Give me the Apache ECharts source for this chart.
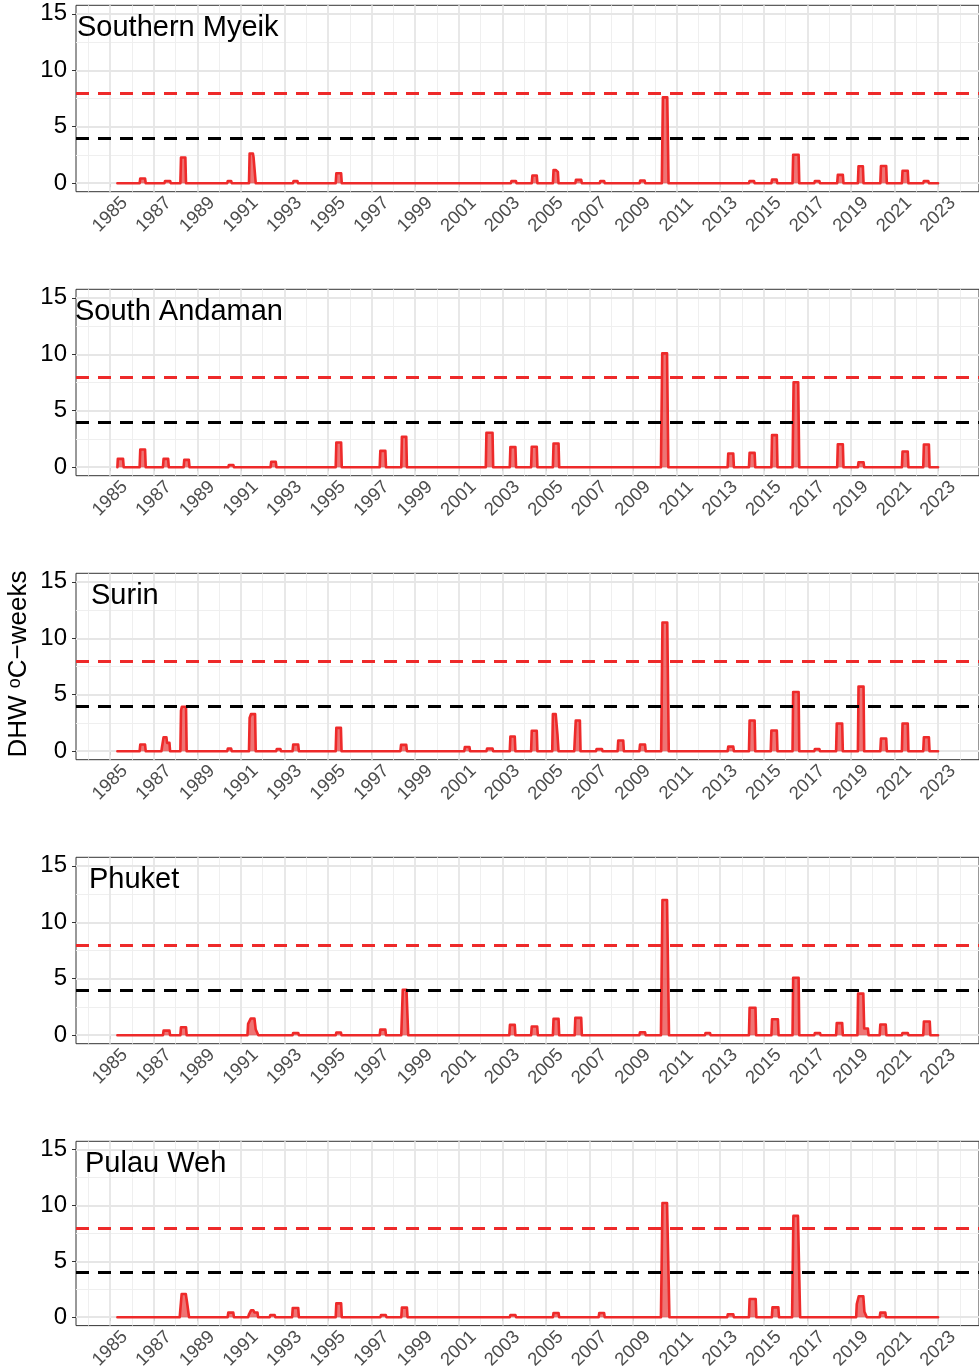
<!DOCTYPE html>
<html>
<head>
<meta charset="utf-8">
<script src="https://cdn.jsdelivr.net/npm/echarts@6/dist/echarts.min.js"></script>
<style>
html,body{margin:0;padding:0;background:#fff;}
#chart{width:979px;height:1372px;}
</style>
</head>
<body>
<div id="chart"></div>
<script>
// ---- data ----
const regions = ["Southern Myeik", "South Andaman", "Surin", "Phuket", "Pulau Weh"];
const tickYears = [1985,1987,1989,1991,1993,1995,1997,1999,2001,2003,2005,2007,2009,2011,2013,2015,2017,2019,2021,2023];
const minorYears = [1984,1986,1988,1990,1992,1994,1996,1998,2000,2002,2004,2006,2008,2010,2012,2014,2016,2018,2020,2022,2024];
const yTicks = [0, 5, 10, 15];
const yMinor = [2.5, 7.5, 12.5];
const thresholds = [4, 8];
const yAxisTitle = "DHW ";
const yAxisUnit = "C\u2212weeks";

const myeik = [
[1985.33,0],
[1986.35,0],[1986.38,0.42],[1986.60,0.42],[1986.63,0],
[1987.49,0],[1987.52,0.2],[1987.75,0.2],[1987.78,0],
[1988.22,0],[1988.25,2.28],[1988.45,2.28],[1988.48,0],
[1990.37,0],[1990.40,0.2],[1990.55,0.2],[1990.58,0],
[1991.37,0],[1991.40,2.63],[1991.55,2.63],[1991.58,2.3],[1991.65,2.3],[1991.68,0],
[1993.39,0],[1993.42,0.2],[1993.59,0.2],[1993.62,0],
[1995.35,0],[1995.38,0.88],[1995.60,0.88],[1995.63,0],
[2003.39,0],[2003.42,0.2],[2003.62,0.2],[2003.65,0],
[2004.35,0],[2004.38,0.68],[2004.58,0.68],[2004.61,0],
[2005.32,0],[2005.35,1.16],[2005.45,1.16],[2005.55,1.0],[2005.58,0],
[2006.35,0],[2006.38,0.3],[2006.62,0.3],[2006.65,0],
[2007.47,0],[2007.50,0.2],[2007.67,0.2],[2007.70,0],
[2009.30,0],[2009.33,0.24],[2009.53,0.24],[2009.56,0],
[2010.32,0],[2010.37,7.6],[2010.57,7.6],[2010.63,0],
[2014.32,0],[2014.35,0.2],[2014.55,0.2],[2014.58,0],
[2015.35,0],[2015.38,0.33],[2015.59,0.33],[2015.62,0],
[2016.32,0],[2016.35,2.52],[2016.60,2.52],[2016.63,0],
[2017.32,0],[2017.35,0.2],[2017.55,0.2],[2017.58,0],
[2018.37,0],[2018.40,0.74],[2018.63,0.74],[2018.66,0],
[2019.32,0],[2019.35,1.5],[2019.55,1.5],[2019.58,0],
[2020.35,0],[2020.38,1.52],[2020.62,1.52],[2020.65,0],
[2021.34,0],[2021.37,1.1],[2021.61,1.1],[2021.64,0],
[2022.32,0],[2022.35,0.2],[2022.55,0.2],[2022.58,0],
[2023.0,0]
];

const andaman = [
[1985.33,0],[1985.35,0.74],[1985.59,0.74],[1985.62,0],
[1986.35,0],[1986.38,1.57],[1986.60,1.57],[1986.63,0],
[1987.42,0],[1987.45,0.74],[1987.66,0.74],[1987.69,0],
[1988.37,0],[1988.40,0.65],[1988.61,0.65],[1988.64,0],
[1990.42,0],[1990.45,0.2],[1990.65,0.2],[1990.68,0],
[1992.36,0],[1992.39,0.48],[1992.60,0.48],[1992.63,0],
[1995.35,0],[1995.38,2.19],[1995.60,2.19],[1995.63,0],
[1997.37,0],[1997.40,1.45],[1997.63,1.45],[1997.66,0],
[1998.36,0],[1998.39,2.69],[1998.59,2.69],[1998.62,0],
[2002.24,0],[2002.27,3.05],[2002.55,3.05],[2002.58,0],
[2003.34,0],[2003.37,1.78],[2003.60,1.78],[2003.63,0],
[2004.32,0],[2004.35,1.81],[2004.58,1.81],[2004.61,0],
[2005.32,0],[2005.35,2.1],[2005.58,2.1],[2005.61,0],
[2010.28,0],[2010.34,10.08],[2010.56,10.08],[2010.62,0],
[2013.34,0],[2013.37,1.21],[2013.60,1.21],[2013.63,0],
[2014.32,0],[2014.35,1.27],[2014.58,1.27],[2014.61,0],
[2015.35,0],[2015.38,2.84],[2015.60,2.84],[2015.63,0],
[2016.32,0],[2016.37,7.52],[2016.58,7.52],[2016.63,0],
[2018.37,0],[2018.40,2.04],[2018.63,2.04],[2018.66,0],
[2019.32,0],[2019.35,0.44],[2019.58,0.44],[2019.61,0],
[2021.34,0],[2021.37,1.39],[2021.61,1.39],[2021.64,0],
[2022.32,0],[2022.35,2.01],[2022.58,2.01],[2022.61,0],
[2023.0,0]
];

const surin = [
[1985.33,0],
[1986.35,0],[1986.38,0.59],[1986.60,0.59],[1986.63,0],
[1987.35,0],[1987.38,0.4],[1987.45,1.24],[1987.58,1.24],[1987.61,0.74],[1987.72,0.74],[1987.75,0],
[1988.22,0],[1988.25,3.6],[1988.29,3.94],[1988.48,3.94],[1988.51,0],
[1990.37,0],[1990.40,0.24],[1990.55,0.24],[1990.58,0],
[1991.37,0],[1991.40,2.95],[1991.46,3.28],[1991.65,3.28],[1991.68,0],
[1992.62,0],[1992.65,0.2],[1992.81,0.2],[1992.84,0],
[1993.37,0],[1993.40,0.59],[1993.63,0.59],[1993.66,0],
[1995.35,0],[1995.38,2.07],[1995.59,2.07],[1995.62,0],
[1998.32,0],[1998.35,0.56],[1998.59,0.56],[1998.62,0],
[2001.25,0],[2001.28,0.38],[2001.49,0.38],[2001.52,0],
[2002.27,0],[2002.30,0.24],[2002.55,0.24],[2002.58,0],
[2003.34,0],[2003.37,1.3],[2003.57,1.3],[2003.60,0],
[2004.32,0],[2004.35,1.81],[2004.58,1.81],[2004.61,0],
[2005.29,0],[2005.32,3.28],[2005.45,3.28],[2005.53,1.5],[2005.58,0],
[2006.30,0],[2006.33,1.2],[2006.37,2.72],[2006.56,2.72],[2006.59,0],
[2007.30,0],[2007.33,0.2],[2007.57,0.2],[2007.60,0],
[2008.29,0],[2008.32,0.95],[2008.55,0.95],[2008.58,0],
[2009.29,0],[2009.32,0.59],[2009.55,0.59],[2009.58,0],
[2010.29,0],[2010.35,11.4],[2010.57,11.4],[2010.64,0],
[2013.34,0],[2013.37,0.41],[2013.60,0.41],[2013.63,0],
[2014.32,0],[2014.35,2.72],[2014.58,2.72],[2014.61,0],
[2015.32,0],[2015.35,1.84],[2015.60,1.84],[2015.63,0],
[2016.32,0],[2016.35,5.24],[2016.60,5.24],[2016.63,0],
[2017.32,0],[2017.35,0.2],[2017.55,0.2],[2017.58,0],
[2018.32,0],[2018.35,2.46],[2018.60,2.46],[2018.63,0],
[2019.32,0],[2019.35,5.72],[2019.58,5.72],[2019.61,0],
[2020.35,0],[2020.38,1.12],[2020.62,1.12],[2020.65,0],
[2021.34,0],[2021.37,2.46],[2021.61,2.46],[2021.64,0],
[2022.32,0],[2022.35,1.24],[2022.58,1.24],[2022.61,0],
[2023.0,0]
];

const phuket = [
[1985.33,0],
[1987.42,0],[1987.45,0.41],[1987.72,0.41],[1987.75,0],
[1988.22,0],[1988.25,0.71],[1988.48,0.71],[1988.51,0],
[1991.30,0],[1991.33,1.0],[1991.45,1.48],[1991.62,1.48],[1991.68,0.5],[1991.77,0.5],[1991.80,0],
[1993.37,0],[1993.40,0.2],[1993.63,0.2],[1993.66,0],
[1995.35,0],[1995.38,0.24],[1995.59,0.24],[1995.62,0],
[1997.37,0],[1997.40,0.5],[1997.63,0.5],[1997.66,0],
[1998.36,0],[1998.43,4.03],[1998.60,4.03],[1998.68,0],
[2003.32,0],[2003.35,0.92],[2003.57,0.92],[2003.60,0],
[2004.32,0],[2004.35,0.77],[2004.60,0.77],[2004.63,0],
[2005.32,0],[2005.35,1.45],[2005.58,1.45],[2005.61,0],
[2006.32,0],[2006.35,1.54],[2006.62,1.54],[2006.65,0],
[2009.29,0],[2009.32,0.27],[2009.55,0.27],[2009.58,0],
[2010.28,0],[2010.35,11.97],[2010.56,11.97],[2010.65,0],
[2012.30,0],[2012.33,0.2],[2012.53,0.2],[2012.56,0],
[2014.32,0],[2014.35,2.43],[2014.62,2.43],[2014.65,0],
[2015.35,0],[2015.38,1.42],[2015.65,1.42],[2015.68,0],
[2016.32,0],[2016.35,5.09],[2016.60,5.09],[2016.63,0],
[2017.32,0],[2017.35,0.2],[2017.58,0.2],[2017.61,0],
[2018.32,0],[2018.35,1.07],[2018.60,1.07],[2018.63,0],
[2019.30,0],[2019.33,3.68],[2019.57,3.68],[2019.61,0.6],[2019.78,0.6],[2019.81,0],
[2020.32,0],[2020.35,0.95],[2020.60,0.95],[2020.63,0],
[2021.34,0],[2021.37,0.2],[2021.61,0.2],[2021.64,0],
[2022.32,0],[2022.35,1.21],[2022.62,1.21],[2022.65,0],
[2023.0,0]
];

const pulauWeh = [
[1985.33,0],
[1988.19,0],[1988.22,0.7],[1988.28,2.08],[1988.47,2.08],[1988.53,1.3],[1988.59,1.3],[1988.62,0],
[1990.39,0],[1990.42,0.41],[1990.65,0.41],[1990.68,0],
[1991.33,0],[1991.37,0.25],[1991.47,0.63],[1991.57,0.63],[1991.62,0.43],[1991.76,0.43],[1991.79,0],
[1992.32,0],[1992.35,0.2],[1992.55,0.2],[1992.58,0],
[1993.35,0],[1993.38,0.83],[1993.63,0.83],[1993.66,0],
[1995.35,0],[1995.38,1.24],[1995.60,1.24],[1995.63,0],
[1997.40,0],[1997.43,0.2],[1997.65,0.2],[1997.68,0],
[1998.36,0],[1998.39,0.86],[1998.62,0.86],[1998.65,0],
[2003.34,0],[2003.37,0.2],[2003.60,0.2],[2003.63,0],
[2005.32,0],[2005.35,0.38],[2005.58,0.38],[2005.61,0],
[2007.42,0],[2007.45,0.38],[2007.67,0.38],[2007.70,0],
[2010.28,0],[2010.35,10.22],[2010.56,10.22],[2010.67,0],
[2013.32,0],[2013.35,0.27],[2013.60,0.27],[2013.63,0],
[2014.32,0],[2014.35,1.63],[2014.63,1.63],[2014.66,0],
[2015.37,0],[2015.40,0.88],[2015.67,0.88],[2015.70,0],
[2016.30,0],[2016.36,9.07],[2016.57,9.07],[2016.67,0],
[2019.24,0],[2019.27,1.18],[2019.36,1.88],[2019.57,1.88],[2019.62,0.5],[2019.70,0.5],[2019.73,0],
[2020.32,0],[2020.35,0.41],[2020.58,0.41],[2020.61,0],
[2023.0,0]
];

// ---- layout & style ----
const panels = [myeik, andaman, surin, phuket, pulauWeh];
const FONT = "'Liberation Sans', Arial, Helvetica, sans-serif";
const PANEL_TOP = 5.3, PANEL_STEP = 284, PANEL_H = 186.4, PANEL_LEFT = 76, PANEL_W = 906;
const X_MIN = 1983.43, X_MAX = 2024.88, Y_MIN = -0.75, Y_MAX = 15.75;
const titleX = [77, 75, 91, 89, 85];
const RED = '#EE2A2A';
const majorStyle = {color: '#E6E6E6', width: 1.8, type: 'solid'};
const minorStyle = {color: '#EFEFEF', width: 1.0, type: 'solid'};

const grids = [], xAxes = [], yAxes = [], series = [], graphics = [];
panels.forEach((pts, i) => {
  const top = PANEL_TOP + i * PANEL_STEP;
  grids.push({left: PANEL_LEFT, top: top, width: PANEL_W, height: PANEL_H,
    show: true, backgroundColor: '#FFFFFF', borderColor: '#333333', borderWidth: 1});
  xAxes.push({type: 'value', gridIndex: i, min: X_MIN, max: X_MAX,
    axisLine: {show: false}, splitLine: {show: false},
    axisTick: {show: true, customValues: tickYears, length: 4, lineStyle: {color: '#333333', width: 1}},
    axisLabel: {customValues: tickYears, formatter: v => String(Math.round(v)), rotate: 45,
      align: 'center', verticalAlign: 'middle',
      margin: 23, fontSize: 18.5, color: '#4D4D4D', fontFamily: FONT}});
  yAxes.push({type: 'value', gridIndex: i, min: Y_MIN, max: Y_MAX,
    axisLine: {show: false}, splitLine: {show: false},
    axisTick: {show: true, customValues: yTicks, length: 4, lineStyle: {color: '#333333', width: 1}},
    axisLabel: {customValues: yTicks, margin: 9, fontSize: 24, color: '#000000', fontFamily: FONT}});
  const gl = [];
  minorYears.forEach(v => gl.push({xAxis: v, lineStyle: minorStyle}));
  yMinor.forEach(v => gl.push({yAxis: v, lineStyle: minorStyle}));
  tickYears.forEach(v => gl.push({xAxis: v, lineStyle: majorStyle}));
  yTicks.forEach(v => gl.push({yAxis: v, lineStyle: majorStyle}));
  series.push({type: 'line', xAxisIndex: i, yAxisIndex: i, data: [], silent: true, z: 1,
    markLine: {z: 1, silent: true, symbol: 'none', animation: false, label: {show: false},
      emphasis: {disabled: true}, data: gl}});
  series.push({type: 'line', xAxisIndex: i, yAxisIndex: i, data: pts, z: 2,
    symbol: 'none', showSymbol: false, silent: true, clip: true,
    lineStyle: {color: RED, width: 2.6, join: 'round', cap: 'round'},
    areaStyle: {color: '#E84545', opacity: 0.75, origin: 'auto'},
    markLine: {z: 5, silent: true, symbol: 'none', animation: false, label: {show: false},
      emphasis: {disabled: true},
      data: thresholds.map((v, k) => ({yAxis: v,
        lineStyle: {color: k === 0 ? '#000000' : RED, width: 2.8, type: [13, 9]}}))}});
  graphics.push({type: 'text', x: titleX[i], y: top + 23, z: 10,
    style: {text: regions[i], fontSize: 29, fontFamily: FONT, fill: '#000000',
      align: 'left', verticalAlign: 'middle'}});
});

graphics.push({type: 'text', x: 19, y: 664, rotation: Math.PI / 2, z: 10,
  style: {text: yAxisTitle + '{s|o}' + yAxisUnit, fontSize: 26, fontFamily: FONT, fill: '#000000',
    align: 'center', verticalAlign: 'middle',
    rich: {s: {fontSize: 18, fontFamily: FONT, fill: '#000000', verticalAlign: 'top', lineHeight: 26}}}});

const chart = echarts.init(document.getElementById('chart'), null, {renderer: 'canvas'});
chart.setOption({
  animation: false,
  backgroundColor: '#FFFFFF',
  grid: grids, xAxis: xAxes, yAxis: yAxes, series: series, graphic: graphics
});
</script>
</body>
</html>
